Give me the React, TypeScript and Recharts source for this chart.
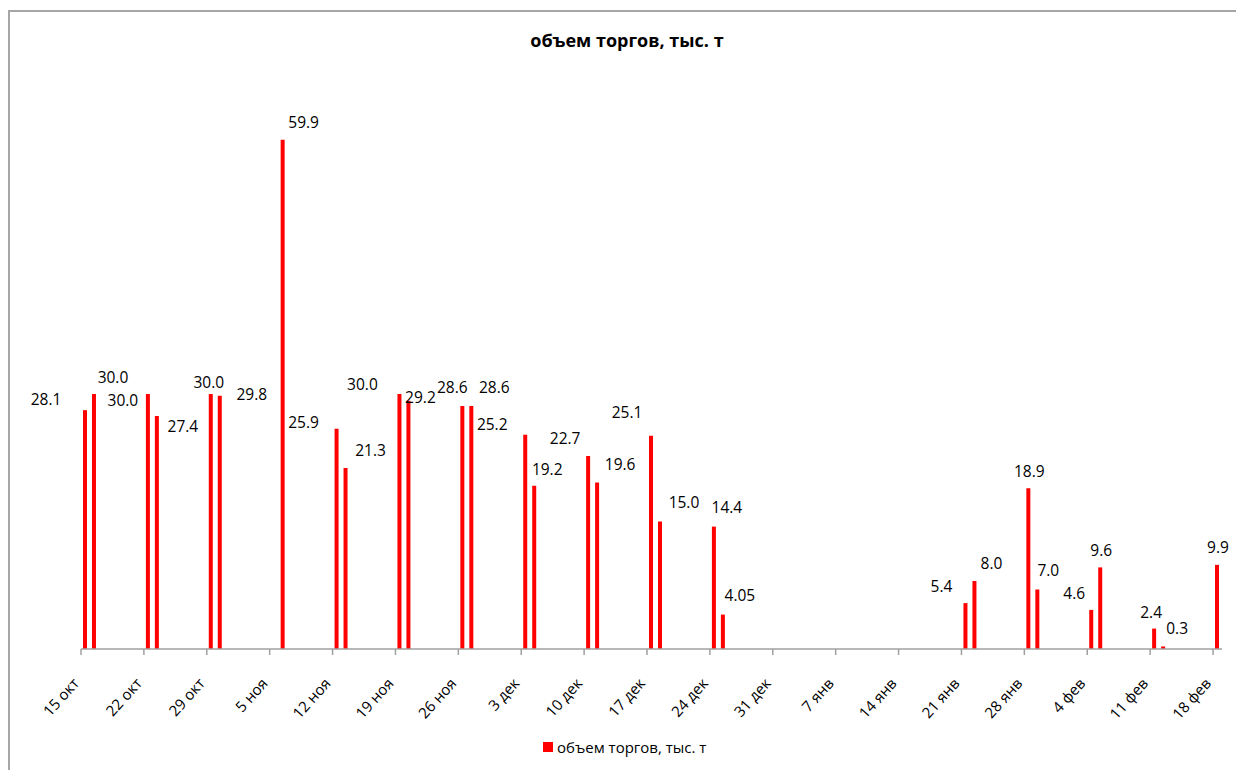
import React from "react";
import { BarChart, Bar, XAxis, YAxis, LabelList, Legend } from "recharts";

const startDate = "2012-10-15";

const tradeDates = [
  "2012-10-15", "2012-10-16", "2012-10-22", "2012-10-23", "2012-10-29", "2012-10-30",
  "2012-11-06", "2012-11-12", "2012-11-13", "2012-11-19", "2012-11-20", "2012-11-26",
  "2012-11-27", "2012-12-03", "2012-12-04", "2012-12-10", "2012-12-11", "2012-12-17",
  "2012-12-18", "2012-12-24", "2012-12-25", "2013-01-21", "2013-01-22", "2013-01-28",
  "2013-01-29", "2013-02-04", "2013-02-05", "2013-02-11", "2013-02-12", "2013-02-18",
];

const volumes = [
  28.1, 30.0, 30.0, 27.4, 30.0, 29.8,
  59.9, 25.9, 21.3, 30.0, 29.2, 28.6,
  28.6, 25.2, 19.2, 22.7, 19.6, 25.1,
  15.0, 14.4, 4.05, 5.4, 8.0, 18.9,
  7.0, 4.6, 9.6, 2.4, 0.3, 9.9,
];

const tickLabels = [
  "15 окт", "22 окт", "29 окт", "5 ноя", "12 ноя", "19 ноя", "26 ноя", "3 дек", "10 дек",
  "17 дек", "24 дек", "31 дек", "7 янв", "14 янв", "21 янв", "28 янв", "4 фев", "11 фев", "18 фев",
];

const seriesName = "объем торгов, тыс. т";

// labels were dragged around by hand in the original, so nudge each one
const labelOffsets = [
  [-39, -11], [19, -17], [-25, 6], [26, 10], [-2, -12], [32, -2],
  [21, -18], [-33, -7], [25, -18], [-37, -10], [12, -4], [-10, -19],
  [23, -19], [-33, -11], [13, -17], [-23, -18], [23, -18], [-24, -24],
  [24, -20], [13, -20], [17, -20], [-24, -17], [17, -18], [1, -17],
  [11, -20], [-17, -17], [1, -17], [-3, -17], [14, -18], [1, -18],
];

const DAY = 86400000;
const data = tradeDates.map((d, i) => ({
  day: (Date.parse(d) - Date.parse(startDate)) / DAY,
  value: volumes[i],
}));

const ticks = tickLabels.map((_, i) => i * 7 - 0.5);
const lastDay = (tickLabels.length - 1) * 7;

const FONT = "'Open Sans', sans-serif";

function fmt(v: number) {
  return Math.abs(v * 10 - Math.round(v * 10)) < 1e-9 ? v.toFixed(1) : String(v);
}

function DateTick(props: any) {
  const { x, y, payload } = props;
  const label = tickLabels[Math.round((payload.value + 0.5) / 7)];
  return (
    <g transform={`translate(${x - 1},${y + 27}) rotate(-48)`}>
      <text x={0} y={0} textAnchor="end" fontSize={15} fill="#000" fontFamily={FONT}>
        {label}
      </text>
    </g>
  );
}

function ValueLabel(props: any) {
  const { x, y, width, value, index } = props;
  const [dx, dy] = labelOffsets[index] || [0, -16];
  return (
    <text
      x={x + width / 2 + dx}
      y={y + dy}
      textAnchor="middle"
      dominantBaseline="central"
      fontSize={15.5}
      fill="#000"
      fontFamily={FONT}
    >
      {fmt(value)}
    </text>
  );
}

function LegendContent() {
  return (
    <div style={{ display: "flex", alignItems: "center", fontFamily: FONT, fontSize: 15, color: "#000", whiteSpace: "nowrap" }}>
      <span style={{ width: 10, height: 10, background: "#ff0000", display: "inline-block", marginRight: 4 }} />
      <span>{seriesName}</span>
    </div>
  );
}

export default function App() {
  return (
    <div style={{ position: "absolute", left: 0, top: 0, width: 1236, height: 770, overflow: "hidden", background: "#fff", fontFamily: FONT }}>
      <div
        style={{
          position: "absolute",
          left: 8,
          top: 10,
          width: 1300,
          height: 800,
          borderLeft: "2px solid #a6a6a6",
          borderTop: "2px solid #a6a6a6",
        }}
      />
      <div style={{ position: "absolute", left: 0, width: 1254, top: 29, textAlign: "center", fontWeight: 700, fontSize: 18, lineHeight: "22px", color: "#000" }}>
        {seriesName}
      </div>
      <div style={{ position: "absolute", left: 0, top: 0 }}>
        <BarChart width={1236} height={770} data={data} margin={{ top: 54, right: 14, left: 81, bottom: 0 }}>
          <XAxis
            dataKey="day"
            type="number"
            domain={[-0.5, lastDay + 0.5]}
            ticks={ticks}
            interval={0}
            height={121}
            axisLine={{ stroke: "#a0a0a0", strokeWidth: 1.5 }}
            tickLine={{ stroke: "#a0a0a0", strokeWidth: 1.5 }}
            tickSize={6}
            tick={<DateTick />}
          />
          <YAxis hide domain={[0, 70]} />
          <Legend
            verticalAlign="middle"
            align="center"
            layout="horizontal"
            content={<LegendContent />}
            wrapperStyle={{ position: "absolute", left: 543, top: 737, width: "auto", height: "auto" }}
          />
          <Bar dataKey="value" name={seriesName} fill="#ff0000" barSize={4} isAnimationActive={false}>
            <LabelList dataKey="value" content={<ValueLabel />} />
          </Bar>
        </BarChart>
      </div>
    </div>
  );
}
